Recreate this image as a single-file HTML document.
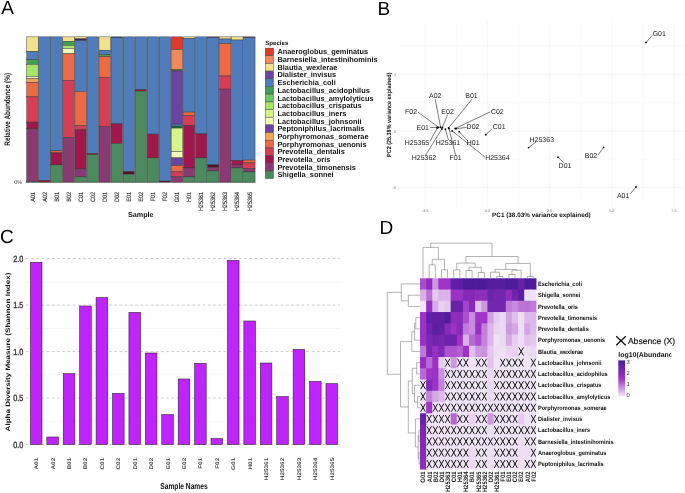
<!DOCTYPE html>
<html><head><meta charset="utf-8"><title>Figure</title>
<style>
html,body{margin:0;padding:0;background:#fff;}
body{width:685px;height:493px;overflow:hidden;font-family:"Liberation Sans", sans-serif;}
svg{display:block;will-change:transform;}
svg text{font-family:"Liberation Sans", sans-serif;text-rendering:geometricPrecision;}
</style></head><body>
<svg width="685" height="493" viewBox="0 0 685 493">
<rect x="0" y="0" width="685" height="493" fill="#ffffff"/>
<g id="panelA">
<text x="1.2" y="14.2" font-size="19" fill="#000">A</text>
<rect x="26.67" y="36.85" width="11.50" height="14.75" fill="#f2e08c" stroke="#2c2c2c" stroke-width="0.42"/>
<rect x="26.67" y="51.60" width="11.50" height="8.00" fill="#4f7cba" stroke="#2c2c2c" stroke-width="0.42"/>
<rect x="26.67" y="59.60" width="11.50" height="4.70" fill="#3f9e58" stroke="#2c2c2c" stroke-width="0.42"/>
<rect x="26.67" y="64.30" width="11.50" height="12.20" fill="#a8e466" stroke="#2c2c2c" stroke-width="0.42"/>
<rect x="26.67" y="76.50" width="11.50" height="2.10" fill="#f4fbb8" stroke="#2c2c2c" stroke-width="0.42"/>
<rect x="26.67" y="78.60" width="11.50" height="3.80" fill="#f2a65a" stroke="#2c2c2c" stroke-width="0.42"/>
<rect x="26.67" y="82.40" width="11.50" height="14.50" fill="#ee6a44" stroke="#2c2c2c" stroke-width="0.42"/>
<rect x="26.67" y="96.90" width="11.50" height="25.20" fill="#d63e56" stroke="#2c2c2c" stroke-width="0.42"/>
<rect x="26.67" y="122.10" width="11.50" height="6.80" fill="#a0174b" stroke="#2c2c2c" stroke-width="0.42"/>
<rect x="26.67" y="128.90" width="11.50" height="52.60" fill="#893a72" stroke="#2c2c2c" stroke-width="0.42"/>
<rect x="26.67" y="181.50" width="11.50" height="0.65" fill="#4b8a5e" stroke="#2c2c2c" stroke-width="0.42"/>
<text transform="translate(34.62,191.9) rotate(-90) scale(0.87,1)" text-anchor="end" font-size="6.3" fill="#303030" stroke="#303030" stroke-width="0.15">A01</text>
<rect x="38.72" y="36.85" width="11.50" height="143.65" fill="#4f7cba" stroke="#2c2c2c" stroke-width="0.42"/>
<rect x="38.72" y="180.50" width="11.50" height="1.65" fill="#a0174b" stroke="#2c2c2c" stroke-width="0.42"/>
<text transform="translate(46.68,191.9) rotate(-90) scale(0.87,1)" text-anchor="end" font-size="6.3" fill="#303030" stroke="#303030" stroke-width="0.15">A02</text>
<rect x="50.77" y="36.85" width="11.50" height="114.05" fill="#4f7cba" stroke="#2c2c2c" stroke-width="0.42"/>
<rect x="50.77" y="150.90" width="11.50" height="2.00" fill="#ee6a44" stroke="#2c2c2c" stroke-width="0.42"/>
<rect x="50.77" y="152.90" width="11.50" height="12.00" fill="#a0174b" stroke="#2c2c2c" stroke-width="0.42"/>
<rect x="50.77" y="164.90" width="11.50" height="17.25" fill="#4b8a5e" stroke="#2c2c2c" stroke-width="0.42"/>
<text transform="translate(58.73,191.9) rotate(-90) scale(0.87,1)" text-anchor="end" font-size="6.3" fill="#303030" stroke="#303030" stroke-width="0.15">B01</text>
<rect x="62.82" y="36.85" width="11.50" height="4.65" fill="#f2e08c" stroke="#2c2c2c" stroke-width="0.42"/>
<rect x="62.82" y="41.50" width="11.50" height="3.90" fill="#3f9e58" stroke="#2c2c2c" stroke-width="0.42"/>
<rect x="62.82" y="45.40" width="11.50" height="3.10" fill="#a8e466" stroke="#2c2c2c" stroke-width="0.42"/>
<rect x="62.82" y="48.50" width="11.50" height="5.20" fill="#f4fbb8" stroke="#2c2c2c" stroke-width="0.42"/>
<rect x="62.82" y="53.70" width="11.50" height="26.70" fill="#ee6a44" stroke="#2c2c2c" stroke-width="0.42"/>
<rect x="62.82" y="80.40" width="11.50" height="57.10" fill="#d63e56" stroke="#2c2c2c" stroke-width="0.42"/>
<rect x="62.82" y="137.50" width="11.50" height="44.65" fill="#893a72" stroke="#2c2c2c" stroke-width="0.42"/>
<text transform="translate(70.78,191.9) rotate(-90) scale(0.87,1)" text-anchor="end" font-size="6.3" fill="#303030" stroke="#303030" stroke-width="0.15">B02</text>
<rect x="74.87" y="36.85" width="11.50" height="2.05" fill="#f2e08c" stroke="#2c2c2c" stroke-width="0.42"/>
<rect x="74.87" y="38.90" width="11.50" height="1.70" fill="#35286e" stroke="#2c2c2c" stroke-width="0.42"/>
<rect x="74.87" y="40.60" width="11.50" height="50.90" fill="#4f7cba" stroke="#2c2c2c" stroke-width="0.42"/>
<rect x="74.87" y="91.50" width="11.50" height="34.00" fill="#ee6a44" stroke="#2c2c2c" stroke-width="0.42"/>
<rect x="74.87" y="125.50" width="11.50" height="4.40" fill="#d63e56" stroke="#2c2c2c" stroke-width="0.42"/>
<rect x="74.87" y="129.90" width="11.50" height="39.00" fill="#a0174b" stroke="#2c2c2c" stroke-width="0.42"/>
<rect x="74.87" y="168.90" width="11.50" height="8.00" fill="#893a72" stroke="#2c2c2c" stroke-width="0.42"/>
<rect x="74.87" y="176.90" width="11.50" height="5.25" fill="#4b8a5e" stroke="#2c2c2c" stroke-width="0.42"/>
<text transform="translate(82.83,191.9) rotate(-90) scale(0.87,1)" text-anchor="end" font-size="6.3" fill="#303030" stroke="#303030" stroke-width="0.15">C01</text>
<rect x="86.92" y="36.85" width="11.50" height="116.65" fill="#4f7cba" stroke="#2c2c2c" stroke-width="0.42"/>
<rect x="86.92" y="153.50" width="11.50" height="1.20" fill="#a0174b" stroke="#2c2c2c" stroke-width="0.42"/>
<rect x="86.92" y="154.70" width="11.50" height="27.45" fill="#4b8a5e" stroke="#2c2c2c" stroke-width="0.42"/>
<text transform="translate(94.88,191.9) rotate(-90) scale(0.87,1)" text-anchor="end" font-size="6.3" fill="#303030" stroke="#303030" stroke-width="0.15">C02</text>
<rect x="98.97" y="36.85" width="11.50" height="13.35" fill="#f2e08c" stroke="#2c2c2c" stroke-width="0.42"/>
<rect x="98.97" y="50.20" width="11.50" height="4.50" fill="#4f7cba" stroke="#2c2c2c" stroke-width="0.42"/>
<rect x="98.97" y="54.70" width="11.50" height="2.00" fill="#5f9a45" stroke="#2c2c2c" stroke-width="0.42"/>
<rect x="98.97" y="56.70" width="11.50" height="20.50" fill="#ee6a44" stroke="#2c2c2c" stroke-width="0.42"/>
<rect x="98.97" y="77.20" width="11.50" height="49.30" fill="#d63e56" stroke="#2c2c2c" stroke-width="0.42"/>
<rect x="98.97" y="126.50" width="11.50" height="55.65" fill="#893a72" stroke="#2c2c2c" stroke-width="0.42"/>
<text transform="translate(106.93,191.9) rotate(-90) scale(0.87,1)" text-anchor="end" font-size="6.3" fill="#303030" stroke="#303030" stroke-width="0.15">D01</text>
<rect x="111.02" y="36.85" width="11.50" height="0.85" fill="#2a3a5a" stroke="#2c2c2c" stroke-width="0.42"/>
<rect x="111.02" y="37.70" width="11.50" height="86.20" fill="#4f7cba" stroke="#2c2c2c" stroke-width="0.42"/>
<rect x="111.02" y="123.90" width="11.50" height="19.60" fill="#a0174b" stroke="#2c2c2c" stroke-width="0.42"/>
<rect x="111.02" y="143.50" width="11.50" height="38.65" fill="#4b8a5e" stroke="#2c2c2c" stroke-width="0.42"/>
<text transform="translate(118.98,191.9) rotate(-90) scale(0.87,1)" text-anchor="end" font-size="6.3" fill="#303030" stroke="#303030" stroke-width="0.15">D02</text>
<rect x="123.07" y="36.85" width="11.50" height="134.65" fill="#4f7cba" stroke="#2c2c2c" stroke-width="0.42"/>
<rect x="123.07" y="171.50" width="11.50" height="2.60" fill="#5a0f2a" stroke="#2c2c2c" stroke-width="0.42"/>
<rect x="123.07" y="174.10" width="11.50" height="8.05" fill="#4b8a5e" stroke="#2c2c2c" stroke-width="0.42"/>
<text transform="translate(131.03,191.9) rotate(-90) scale(0.87,1)" text-anchor="end" font-size="6.3" fill="#303030" stroke="#303030" stroke-width="0.15">E01</text>
<rect x="135.12" y="36.85" width="11.50" height="52.85" fill="#4f7cba" stroke="#2c2c2c" stroke-width="0.42"/>
<rect x="135.12" y="89.70" width="11.50" height="1.40" fill="#a0174b" stroke="#2c2c2c" stroke-width="0.42"/>
<rect x="135.12" y="91.10" width="11.50" height="91.05" fill="#4b8a5e" stroke="#2c2c2c" stroke-width="0.42"/>
<text transform="translate(143.07,191.9) rotate(-90) scale(0.87,1)" text-anchor="end" font-size="6.3" fill="#303030" stroke="#303030" stroke-width="0.15">E02</text>
<rect x="147.17" y="36.85" width="11.50" height="97.25" fill="#4f7cba" stroke="#2c2c2c" stroke-width="0.42"/>
<rect x="147.17" y="134.10" width="11.50" height="23.80" fill="#a0174b" stroke="#2c2c2c" stroke-width="0.42"/>
<rect x="147.17" y="157.90" width="11.50" height="24.25" fill="#4b8a5e" stroke="#2c2c2c" stroke-width="0.42"/>
<text transform="translate(155.12,191.9) rotate(-90) scale(0.87,1)" text-anchor="end" font-size="6.3" fill="#303030" stroke="#303030" stroke-width="0.15">F01</text>
<rect x="159.22" y="36.85" width="11.50" height="144.25" fill="#4f7cba" stroke="#2c2c2c" stroke-width="0.42"/>
<rect x="159.22" y="181.10" width="11.50" height="1.05" fill="#5a0f2a" stroke="#2c2c2c" stroke-width="0.42"/>
<text transform="translate(167.18,191.9) rotate(-90) scale(0.87,1)" text-anchor="end" font-size="6.3" fill="#303030" stroke="#303030" stroke-width="0.15">F02</text>
<rect x="171.27" y="36.85" width="11.50" height="12.65" fill="#e03a2b" stroke="#2c2c2c" stroke-width="0.42"/>
<rect x="171.27" y="49.50" width="11.50" height="20.00" fill="#f08a5c" stroke="#2c2c2c" stroke-width="0.42"/>
<rect x="171.27" y="69.50" width="11.50" height="1.40" fill="#7a7a30" stroke="#2c2c2c" stroke-width="0.42"/>
<rect x="171.27" y="70.90" width="11.50" height="53.20" fill="#6a45a0" stroke="#2c2c2c" stroke-width="0.42"/>
<rect x="171.27" y="124.10" width="11.50" height="2.00" fill="#4f7cba" stroke="#2c2c2c" stroke-width="0.42"/>
<rect x="171.27" y="126.10" width="11.50" height="2.00" fill="#1f6a3a" stroke="#2c2c2c" stroke-width="0.42"/>
<rect x="171.27" y="128.10" width="11.50" height="23.40" fill="#d6f588" stroke="#2c2c2c" stroke-width="0.42"/>
<rect x="171.27" y="151.50" width="11.50" height="6.40" fill="#f4fbb8" stroke="#2c2c2c" stroke-width="0.42"/>
<rect x="171.27" y="157.90" width="11.50" height="7.60" fill="#6a45a0" stroke="#2c2c2c" stroke-width="0.42"/>
<rect x="171.27" y="165.50" width="11.50" height="6.40" fill="#ee6a44" stroke="#2c2c2c" stroke-width="0.42"/>
<rect x="171.27" y="171.90" width="11.50" height="4.60" fill="#d63e56" stroke="#2c2c2c" stroke-width="0.42"/>
<rect x="171.27" y="176.50" width="11.50" height="5.65" fill="#893a72" stroke="#2c2c2c" stroke-width="0.42"/>
<text transform="translate(179.23,191.9) rotate(-90) scale(0.87,1)" text-anchor="end" font-size="6.3" fill="#303030" stroke="#303030" stroke-width="0.15">G01</text>
<rect x="183.32" y="36.85" width="11.50" height="1.55" fill="#f2e08c" stroke="#2c2c2c" stroke-width="0.42"/>
<rect x="183.32" y="38.40" width="11.50" height="73.70" fill="#4f7cba" stroke="#2c2c2c" stroke-width="0.42"/>
<rect x="183.32" y="112.10" width="11.50" height="3.40" fill="#ee6a44" stroke="#2c2c2c" stroke-width="0.42"/>
<rect x="183.32" y="115.50" width="11.50" height="10.00" fill="#d63e56" stroke="#2c2c2c" stroke-width="0.42"/>
<rect x="183.32" y="125.50" width="11.50" height="42.40" fill="#a0174b" stroke="#2c2c2c" stroke-width="0.42"/>
<rect x="183.32" y="167.90" width="11.50" height="9.00" fill="#893a72" stroke="#2c2c2c" stroke-width="0.42"/>
<rect x="183.32" y="176.90" width="11.50" height="5.25" fill="#4b8a5e" stroke="#2c2c2c" stroke-width="0.42"/>
<text transform="translate(191.28,191.9) rotate(-90) scale(0.87,1)" text-anchor="end" font-size="6.3" fill="#303030" stroke="#303030" stroke-width="0.15">H01</text>
<rect x="195.37" y="36.85" width="11.50" height="97.05" fill="#4f7cba" stroke="#2c2c2c" stroke-width="0.42"/>
<rect x="195.37" y="133.90" width="11.50" height="24.00" fill="#a0174b" stroke="#2c2c2c" stroke-width="0.42"/>
<rect x="195.37" y="157.90" width="11.50" height="24.25" fill="#4b8a5e" stroke="#2c2c2c" stroke-width="0.42"/>
<text transform="translate(203.33,191.9) rotate(-90) scale(0.87,1)" text-anchor="end" font-size="6.3" fill="#303030" stroke="#303030" stroke-width="0.15">H25361</text>
<rect x="207.42" y="36.85" width="11.50" height="0.75" fill="#2a3a5a" stroke="#2c2c2c" stroke-width="0.42"/>
<rect x="207.42" y="37.60" width="11.50" height="127.30" fill="#4f7cba" stroke="#2c2c2c" stroke-width="0.42"/>
<rect x="207.42" y="164.90" width="11.50" height="2.60" fill="#5a0f2a" stroke="#2c2c2c" stroke-width="0.42"/>
<rect x="207.42" y="167.50" width="11.50" height="3.40" fill="#893a72" stroke="#2c2c2c" stroke-width="0.42"/>
<rect x="207.42" y="170.90" width="11.50" height="11.25" fill="#4b8a5e" stroke="#2c2c2c" stroke-width="0.42"/>
<text transform="translate(215.38,191.9) rotate(-90) scale(0.87,1)" text-anchor="end" font-size="6.3" fill="#303030" stroke="#303030" stroke-width="0.15">H25362</text>
<rect x="219.47" y="36.85" width="11.50" height="2.15" fill="#f2e08c" stroke="#2c2c2c" stroke-width="0.42"/>
<rect x="219.47" y="39.00" width="11.50" height="4.60" fill="#4f7cba" stroke="#2c2c2c" stroke-width="0.42"/>
<rect x="219.47" y="43.60" width="11.50" height="32.40" fill="#ee6a44" stroke="#2c2c2c" stroke-width="0.42"/>
<rect x="219.47" y="76.00" width="11.50" height="13.10" fill="#d63e56" stroke="#2c2c2c" stroke-width="0.42"/>
<rect x="219.47" y="89.10" width="11.50" height="93.05" fill="#893a72" stroke="#2c2c2c" stroke-width="0.42"/>
<text transform="translate(227.43,191.9) rotate(-90) scale(0.87,1)" text-anchor="end" font-size="6.3" fill="#303030" stroke="#303030" stroke-width="0.15">H25363</text>
<rect x="231.52" y="36.85" width="11.50" height="3.15" fill="#f2e08c" stroke="#2c2c2c" stroke-width="0.42"/>
<rect x="231.52" y="40.00" width="11.50" height="120.50" fill="#4f7cba" stroke="#2c2c2c" stroke-width="0.42"/>
<rect x="231.52" y="160.50" width="11.50" height="4.40" fill="#a0174b" stroke="#2c2c2c" stroke-width="0.42"/>
<rect x="231.52" y="164.90" width="11.50" height="3.00" fill="#893a72" stroke="#2c2c2c" stroke-width="0.42"/>
<rect x="231.52" y="167.90" width="11.50" height="14.25" fill="#4b8a5e" stroke="#2c2c2c" stroke-width="0.42"/>
<text transform="translate(239.48,191.9) rotate(-90) scale(0.87,1)" text-anchor="end" font-size="6.3" fill="#303030" stroke="#303030" stroke-width="0.15">H25364</text>
<rect x="243.57" y="36.85" width="11.50" height="0.75" fill="#2a3a5a" stroke="#2c2c2c" stroke-width="0.42"/>
<rect x="243.57" y="37.60" width="11.50" height="122.50" fill="#4f7cba" stroke="#2c2c2c" stroke-width="0.42"/>
<rect x="243.57" y="160.10" width="11.50" height="2.80" fill="#ee6a44" stroke="#2c2c2c" stroke-width="0.42"/>
<rect x="243.57" y="162.90" width="11.50" height="5.60" fill="#d63e56" stroke="#2c2c2c" stroke-width="0.42"/>
<rect x="243.57" y="168.50" width="11.50" height="3.40" fill="#893a72" stroke="#2c2c2c" stroke-width="0.42"/>
<rect x="243.57" y="171.90" width="11.50" height="10.25" fill="#4b8a5e" stroke="#2c2c2c" stroke-width="0.42"/>
<text transform="translate(251.53,191.9) rotate(-90) scale(0.87,1)" text-anchor="end" font-size="6.3" fill="#303030" stroke="#303030" stroke-width="0.15">H25365</text>
<line x1="25.6" x2="255.6" y1="182.4" y2="182.4" stroke="#555" stroke-width="0.5"/>
<text x="22.2" y="183.9" text-anchor="end" font-size="5.5" fill="#444">0%</text>
<text transform="translate(10.3,109.3) rotate(-90) scale(0.80,1)" text-anchor="middle" font-size="8.0" font-weight="bold" fill="#111">Relative Abundance (%)</text>
<text x="140.8" y="217.0" text-anchor="middle" font-size="7.2" font-weight="bold" fill="#111">Sample</text>
<text x="265.2" y="45" font-size="6.15" font-weight="bold" fill="#111">Species</text>
<rect x="265.3" y="48.10" width="8.3" height="7.49" fill="#e03a2b" stroke="#333" stroke-width="0.4"/>
<text x="277.4" y="54.39" font-size="7.4" font-weight="bold" fill="#161616">Anaeroglobus_geminatus</text>
<rect x="265.3" y="55.79" width="8.3" height="7.49" fill="#f08a5c" stroke="#333" stroke-width="0.4"/>
<text x="277.4" y="62.08" font-size="7.4" font-weight="bold" fill="#161616">Barnesiella_intestinihominis</text>
<rect x="265.3" y="63.48" width="8.3" height="7.49" fill="#f2e08c" stroke="#333" stroke-width="0.4"/>
<text x="277.4" y="69.78" font-size="7.4" font-weight="bold" fill="#161616">Blautia_wexlerae</text>
<rect x="265.3" y="71.17" width="8.3" height="7.49" fill="#6a45a0" stroke="#333" stroke-width="0.4"/>
<text x="277.4" y="77.46" font-size="7.4" font-weight="bold" fill="#161616">Dialister_invisus</text>
<rect x="265.3" y="78.86" width="8.3" height="7.49" fill="#4f7cba" stroke="#333" stroke-width="0.4"/>
<text x="277.4" y="85.16" font-size="7.4" font-weight="bold" fill="#161616">Escherichia_coli</text>
<rect x="265.3" y="86.55" width="8.3" height="7.49" fill="#3f9e58" stroke="#333" stroke-width="0.4"/>
<text x="277.4" y="92.84" font-size="7.4" font-weight="bold" fill="#161616">Lactobacillus_acidophilus</text>
<rect x="265.3" y="94.24" width="8.3" height="7.49" fill="#6cc863" stroke="#333" stroke-width="0.4"/>
<text x="277.4" y="100.53" font-size="7.4" font-weight="bold" fill="#161616">Lactobacillus_amylolyticus</text>
<rect x="265.3" y="101.93" width="8.3" height="7.49" fill="#a8e466" stroke="#333" stroke-width="0.4"/>
<text x="277.4" y="108.23" font-size="7.4" font-weight="bold" fill="#161616">Lactobacillus_crispatus</text>
<rect x="265.3" y="109.62" width="8.3" height="7.49" fill="#d6f588" stroke="#333" stroke-width="0.4"/>
<text x="277.4" y="115.92" font-size="7.4" font-weight="bold" fill="#161616">Lactobacillus_iners</text>
<rect x="265.3" y="117.31" width="8.3" height="7.49" fill="#f4fbb8" stroke="#333" stroke-width="0.4"/>
<text x="277.4" y="123.61" font-size="7.4" font-weight="bold" fill="#161616">Lactobacillus_johnsonii</text>
<rect x="265.3" y="125.00" width="8.3" height="7.49" fill="#6a45a0" stroke="#333" stroke-width="0.4"/>
<text x="277.4" y="131.30" font-size="7.4" font-weight="bold" fill="#161616">Peptoniphilus_lacrimalis</text>
<rect x="265.3" y="132.69" width="8.3" height="7.49" fill="#f2a65a" stroke="#333" stroke-width="0.4"/>
<text x="277.4" y="138.99" font-size="7.4" font-weight="bold" fill="#161616">Porphyromonas_somerae</text>
<rect x="265.3" y="140.38" width="8.3" height="7.49" fill="#ee6a44" stroke="#333" stroke-width="0.4"/>
<text x="277.4" y="146.68" font-size="7.4" font-weight="bold" fill="#161616">Porphyromonas_uenonis</text>
<rect x="265.3" y="148.07" width="8.3" height="7.49" fill="#d63e56" stroke="#333" stroke-width="0.4"/>
<text x="277.4" y="154.37" font-size="7.4" font-weight="bold" fill="#161616">Prevotella_dentalis</text>
<rect x="265.3" y="155.76" width="8.3" height="7.49" fill="#a0174b" stroke="#333" stroke-width="0.4"/>
<text x="277.4" y="162.06" font-size="7.4" font-weight="bold" fill="#161616">Prevotella_oris</text>
<rect x="265.3" y="163.45" width="8.3" height="7.49" fill="#893a72" stroke="#333" stroke-width="0.4"/>
<text x="277.4" y="169.75" font-size="7.4" font-weight="bold" fill="#161616">Prevotella_timonensis</text>
<rect x="265.3" y="171.14" width="8.3" height="7.49" fill="#4b8a5e" stroke="#333" stroke-width="0.4"/>
<text x="277.4" y="177.44" font-size="7.4" font-weight="bold" fill="#161616">Shigella_sonnei</text>
</g>
<g id="panelB">
<text x="377.6" y="14.8" font-size="19" fill="#000">B</text>
<line x1="425.20" x2="425.20" y1="22.5" y2="207" stroke="#ececec" stroke-width="0.55"/>
<line x1="456.30" x2="456.30" y1="22.5" y2="207" stroke="#f3f3f3" stroke-width="0.45"/>
<line x1="487.40" x2="487.40" y1="22.5" y2="207" stroke="#ececec" stroke-width="0.55"/>
<line x1="518.50" x2="518.50" y1="22.5" y2="207" stroke="#f3f3f3" stroke-width="0.45"/>
<line x1="549.60" x2="549.60" y1="22.5" y2="207" stroke="#ececec" stroke-width="0.55"/>
<line x1="580.70" x2="580.70" y1="22.5" y2="207" stroke="#f3f3f3" stroke-width="0.45"/>
<line x1="611.80" x2="611.80" y1="22.5" y2="207" stroke="#ececec" stroke-width="0.55"/>
<line x1="642.90" x2="642.90" y1="22.5" y2="207" stroke="#f3f3f3" stroke-width="0.45"/>
<line x1="674.00" x2="674.00" y1="22.5" y2="207" stroke="#ececec" stroke-width="0.55"/>
<line x1="398" x2="685" y1="46.00" y2="46.00" stroke="#f3f3f3" stroke-width="0.45"/>
<line x1="398" x2="685" y1="74.30" y2="74.30" stroke="#ececec" stroke-width="0.55"/>
<line x1="398" x2="685" y1="102.60" y2="102.60" stroke="#f3f3f3" stroke-width="0.45"/>
<line x1="398" x2="685" y1="130.90" y2="130.90" stroke="#ececec" stroke-width="0.55"/>
<line x1="398" x2="685" y1="159.20" y2="159.20" stroke="#f3f3f3" stroke-width="0.45"/>
<line x1="398" x2="685" y1="187.50" y2="187.50" stroke="#ececec" stroke-width="0.55"/>
<text x="425.20"  y="211.7" text-anchor="middle" font-size="3.8" fill="#777">-2.5</text>
<text x="487.40"  y="211.7" text-anchor="middle" font-size="3.8" fill="#777">0.0</text>
<text x="549.60"  y="211.7" text-anchor="middle" font-size="3.8" fill="#777">2.5</text>
<text x="611.80"  y="211.7" text-anchor="middle" font-size="3.8" fill="#777">5.0</text>
<text x="674.00"  y="211.7" text-anchor="middle" font-size="3.8" fill="#777">7.5</text>
<text x="396"  y="76.00" text-anchor="end" font-size="3.8" fill="#777">5</text>
<text x="396"  y="132.60" text-anchor="end" font-size="3.8" fill="#777">0</text>
<text x="396"  y="189.20" text-anchor="end" font-size="3.8" fill="#777">-5</text>
<text transform="translate(391.1,114.7) rotate(-90) scale(0.893,1)" text-anchor="middle" font-size="6.1" font-weight="bold" fill="#111">PC2 (25.38% variance explained)</text>
<text x="541.4" y="217.0" text-anchor="middle" font-size="6.36" font-weight="bold" fill="#111">PC1 (38.03% variance explained)</text>
<line x1="437.3" y1="127.3" x2="430.2" y2="127.6" stroke="#111" stroke-width="0.55"/>
<line x1="438.6" y1="127.3" x2="417.8" y2="112.0" stroke="#111" stroke-width="0.55"/>
<line x1="440.6" y1="127.3" x2="435.2" y2="99.2" stroke="#111" stroke-width="0.55"/>
<line x1="442.4" y1="127.4" x2="447.6" y2="114.6" stroke="#111" stroke-width="0.55"/>
<line x1="437.3" y1="128.0" x2="430.0" y2="141.4" stroke="#111" stroke-width="0.55"/>
<line x1="441.9" y1="128.9" x2="425.2" y2="155.8" stroke="#111" stroke-width="0.55"/>
<line x1="445.4" y1="129.2" x2="448.4" y2="140.0" stroke="#111" stroke-width="0.55"/>
<line x1="448.6" y1="127.9" x2="472.0" y2="99.2" stroke="#111" stroke-width="0.55"/>
<line x1="449.0" y1="128.6" x2="455.6" y2="155.4" stroke="#111" stroke-width="0.55"/>
<line x1="452.1" y1="130.9" x2="485.0" y2="157.0" stroke="#111" stroke-width="0.55"/>
<line x1="455.1" y1="128.5" x2="490.4" y2="111.8" stroke="#111" stroke-width="0.55"/>
<line x1="456.2" y1="128.7" x2="466.4" y2="127.4" stroke="#111" stroke-width="0.55"/>
<line x1="459.2" y1="131.7" x2="468.0" y2="141.0" stroke="#111" stroke-width="0.55"/>
<line x1="485.8" y1="134.7" x2="492.2" y2="128.6" stroke="#111" stroke-width="0.55"/>
<line x1="528.6" y1="147.6" x2="536.0" y2="142.0" stroke="#111" stroke-width="0.55"/>
<line x1="558.0" y1="157.2" x2="563.8" y2="162.8" stroke="#111" stroke-width="0.55"/>
<line x1="603.6" y1="147.4" x2="598.0" y2="155.0" stroke="#111" stroke-width="0.55"/>
<line x1="636.0" y1="187.0" x2="630.0" y2="194.0" stroke="#111" stroke-width="0.55"/>
<line x1="646.0" y1="42.4" x2="652.2" y2="35.6" stroke="#111" stroke-width="0.55"/>
<circle cx="437.3" cy="127.3" r="0.9" fill="#000"/>
<circle cx="438.6" cy="127.3" r="0.9" fill="#000"/>
<circle cx="440.6" cy="127.3" r="0.9" fill="#000"/>
<circle cx="442.4" cy="127.4" r="0.9" fill="#000"/>
<circle cx="437.3" cy="128.0" r="0.9" fill="#000"/>
<circle cx="441.9" cy="128.9" r="0.9" fill="#000"/>
<circle cx="445.4" cy="129.2" r="0.9" fill="#000"/>
<circle cx="448.6" cy="127.9" r="0.9" fill="#000"/>
<circle cx="449.0" cy="128.6" r="0.9" fill="#000"/>
<circle cx="452.1" cy="130.9" r="0.9" fill="#000"/>
<circle cx="455.1" cy="128.5" r="0.9" fill="#000"/>
<circle cx="456.2" cy="128.7" r="0.9" fill="#000"/>
<circle cx="459.2" cy="131.7" r="0.9" fill="#000"/>
<circle cx="485.8" cy="134.7" r="0.9" fill="#000"/>
<circle cx="528.6" cy="147.6" r="0.9" fill="#000"/>
<circle cx="558.0" cy="157.2" r="0.9" fill="#000"/>
<circle cx="603.6" cy="147.4" r="0.9" fill="#000"/>
<circle cx="636.0" cy="187.0" r="0.9" fill="#000"/>
<circle cx="646.0" cy="42.4" r="0.9" fill="#000"/>
<text x="422.8" y="129.60" text-anchor="middle" font-size="7" fill="#1a1a1a">E01</text>
<text x="411.0" y="113.60" text-anchor="middle" font-size="7" fill="#1a1a1a">F02</text>
<text x="435.3" y="98.00" text-anchor="middle" font-size="7" fill="#1a1a1a">A02</text>
<text x="447.6" y="113.60" text-anchor="middle" font-size="7" fill="#1a1a1a">E02</text>
<text x="417.0" y="145.00" text-anchor="middle" font-size="7" fill="#1a1a1a">H25365</text>
<text x="424.0" y="160.40" text-anchor="middle" font-size="7" fill="#1a1a1a">H25362</text>
<text x="448.0" y="145.00" text-anchor="middle" font-size="7" fill="#1a1a1a">H25361</text>
<text x="471.5" y="98.00" text-anchor="middle" font-size="7" fill="#1a1a1a">B01</text>
<text x="455.5" y="160.40" text-anchor="middle" font-size="7" fill="#1a1a1a">F01</text>
<text x="497.4" y="160.40" text-anchor="middle" font-size="7" fill="#1a1a1a">H25364</text>
<text x="497.3" y="113.60" text-anchor="middle" font-size="7" fill="#1a1a1a">C02</text>
<text x="473.0" y="129.20" text-anchor="middle" font-size="7" fill="#1a1a1a">D02</text>
<text x="473.2" y="145.00" text-anchor="middle" font-size="7" fill="#1a1a1a">H01</text>
<text x="499.2" y="129.20" text-anchor="middle" font-size="7" fill="#1a1a1a">C01</text>
<text x="541.8" y="141.60" text-anchor="middle" font-size="7" fill="#1a1a1a">H25363</text>
<text x="565.0" y="168.30" text-anchor="middle" font-size="7" fill="#1a1a1a">D01</text>
<text x="591.0" y="158.00" text-anchor="middle" font-size="7" fill="#1a1a1a">B02</text>
<text x="623.2" y="197.60" text-anchor="middle" font-size="7" fill="#1a1a1a">A01</text>
<text x="659.3" y="36.40" text-anchor="middle" font-size="7" fill="#1a1a1a">G01</text>
</g>
<g id="panelC">
<text x="0.0" y="243.4" font-size="19" fill="#000">C</text>
<text transform="translate(23.4,261.95) scale(0.82,1)" text-anchor="end" font-size="8.9" fill="#3c3c3c" stroke="#3c3c3c" stroke-width="0.4">2.0</text>
<text transform="translate(23.4,308.45) scale(0.82,1)" text-anchor="end" font-size="8.9" fill="#3c3c3c" stroke="#3c3c3c" stroke-width="0.4">1.5</text>
<text transform="translate(23.4,354.95) scale(0.82,1)" text-anchor="end" font-size="8.9" fill="#3c3c3c" stroke="#3c3c3c" stroke-width="0.4">1.0</text>
<text transform="translate(23.4,401.35) scale(0.82,1)" text-anchor="end" font-size="8.9" fill="#3c3c3c" stroke="#3c3c3c" stroke-width="0.4">0.5</text>
<text transform="translate(23.4,447.85) scale(0.82,1)" text-anchor="end" font-size="8.9" fill="#3c3c3c" stroke="#3c3c3c" stroke-width="0.4">0.0</text>
<line x1="26" x2="340" y1="281.9" y2="281.9" stroke="#ececec" stroke-width="0.5"/>
<line x1="26" x2="340" y1="328.4" y2="328.4" stroke="#ececec" stroke-width="0.5"/>
<line x1="26" x2="340" y1="374.8" y2="374.8" stroke="#ececec" stroke-width="0.5"/>
<line x1="26" x2="340" y1="421.3" y2="421.3" stroke="#ececec" stroke-width="0.5"/>
<line x1="26" x2="340" y1="258.6" y2="258.6" stroke="#b6b6b6" stroke-width="0.75" stroke-dasharray="2.5,2.7"/>
<line x1="26" x2="340" y1="305.1" y2="305.1" stroke="#b6b6b6" stroke-width="0.75" stroke-dasharray="2.5,2.7"/>
<line x1="26" x2="340" y1="351.6" y2="351.6" stroke="#b6b6b6" stroke-width="0.75" stroke-dasharray="2.5,2.7"/>
<line x1="26" x2="340" y1="398.0" y2="398.0" stroke="#b6b6b6" stroke-width="0.75" stroke-dasharray="2.5,2.7"/>
<line x1="26" x2="340" y1="444.5" y2="444.5" stroke="#b6b6b6" stroke-width="0.75" stroke-dasharray="2.5,2.7"/>
<rect x="30.40" y="262.40" width="11.6" height="182.10" fill="#bf24fc" stroke="#2a1a33" stroke-width="0.55"/>
<text transform="translate(38.15,457.8) scale(0.83,1) rotate(-90)" text-anchor="end" font-size="6.4" font-weight="bold" fill="#4a4a4a">A01</text>
<rect x="46.82" y="437.00" width="11.6" height="7.50" fill="#bf24fc" stroke="#2a1a33" stroke-width="0.55"/>
<text transform="translate(54.57,457.8) scale(0.83,1) rotate(-90)" text-anchor="end" font-size="6.4" font-weight="bold" fill="#4a4a4a">A02</text>
<rect x="63.24" y="373.60" width="11.6" height="70.90" fill="#bf24fc" stroke="#2a1a33" stroke-width="0.55"/>
<text transform="translate(70.99,457.8) scale(0.83,1) rotate(-90)" text-anchor="end" font-size="6.4" font-weight="bold" fill="#4a4a4a">B01</text>
<rect x="79.66" y="306.00" width="11.6" height="138.50" fill="#bf24fc" stroke="#2a1a33" stroke-width="0.55"/>
<text transform="translate(87.41,457.8) scale(0.83,1) rotate(-90)" text-anchor="end" font-size="6.4" font-weight="bold" fill="#4a4a4a">B02</text>
<rect x="96.08" y="297.60" width="11.6" height="146.90" fill="#bf24fc" stroke="#2a1a33" stroke-width="0.55"/>
<text transform="translate(103.83,457.8) scale(0.83,1) rotate(-90)" text-anchor="end" font-size="6.4" font-weight="bold" fill="#4a4a4a">C01</text>
<rect x="112.50" y="393.40" width="11.6" height="51.10" fill="#bf24fc" stroke="#2a1a33" stroke-width="0.55"/>
<text transform="translate(120.25,457.8) scale(0.83,1) rotate(-90)" text-anchor="end" font-size="6.4" font-weight="bold" fill="#4a4a4a">C02</text>
<rect x="128.92" y="312.40" width="11.6" height="132.10" fill="#bf24fc" stroke="#2a1a33" stroke-width="0.55"/>
<text transform="translate(136.67,457.8) scale(0.83,1) rotate(-90)" text-anchor="end" font-size="6.4" font-weight="bold" fill="#4a4a4a">D01</text>
<rect x="145.34" y="353.00" width="11.6" height="91.50" fill="#bf24fc" stroke="#2a1a33" stroke-width="0.55"/>
<text transform="translate(153.09,457.8) scale(0.83,1) rotate(-90)" text-anchor="end" font-size="6.4" font-weight="bold" fill="#4a4a4a">D02</text>
<rect x="161.76" y="414.60" width="11.6" height="29.90" fill="#bf24fc" stroke="#2a1a33" stroke-width="0.55"/>
<text transform="translate(169.51,457.8) scale(0.83,1) rotate(-90)" text-anchor="end" font-size="6.4" font-weight="bold" fill="#4a4a4a">E01</text>
<rect x="178.18" y="379.00" width="11.6" height="65.50" fill="#bf24fc" stroke="#2a1a33" stroke-width="0.55"/>
<text transform="translate(185.93,457.8) scale(0.83,1) rotate(-90)" text-anchor="end" font-size="6.4" font-weight="bold" fill="#4a4a4a">E02</text>
<rect x="194.60" y="363.40" width="11.6" height="81.10" fill="#bf24fc" stroke="#2a1a33" stroke-width="0.55"/>
<text transform="translate(202.35,457.8) scale(0.83,1) rotate(-90)" text-anchor="end" font-size="6.4" font-weight="bold" fill="#4a4a4a">F01</text>
<rect x="211.02" y="438.60" width="11.6" height="5.90" fill="#bf24fc" stroke="#2a1a33" stroke-width="0.55"/>
<text transform="translate(218.77,457.8) scale(0.83,1) rotate(-90)" text-anchor="end" font-size="6.4" font-weight="bold" fill="#4a4a4a">F02</text>
<rect x="227.44" y="260.40" width="11.6" height="184.10" fill="#bf24fc" stroke="#2a1a33" stroke-width="0.55"/>
<text transform="translate(235.19,457.8) scale(0.83,1) rotate(-90)" text-anchor="end" font-size="6.4" font-weight="bold" fill="#4a4a4a">G01</text>
<rect x="243.86" y="321.00" width="11.6" height="123.50" fill="#bf24fc" stroke="#2a1a33" stroke-width="0.55"/>
<text transform="translate(251.61,457.8) scale(0.83,1) rotate(-90)" text-anchor="end" font-size="6.4" font-weight="bold" fill="#4a4a4a">H01</text>
<rect x="260.28" y="363.00" width="11.6" height="81.50" fill="#bf24fc" stroke="#2a1a33" stroke-width="0.55"/>
<text transform="translate(268.03,457.8) scale(0.83,1) rotate(-90)" text-anchor="end" font-size="6.4" font-weight="bold" fill="#4a4a4a">H25361</text>
<rect x="276.70" y="396.60" width="11.6" height="47.90" fill="#bf24fc" stroke="#2a1a33" stroke-width="0.55"/>
<text transform="translate(284.45,457.8) scale(0.83,1) rotate(-90)" text-anchor="end" font-size="6.4" font-weight="bold" fill="#4a4a4a">H25362</text>
<rect x="293.12" y="349.40" width="11.6" height="95.10" fill="#bf24fc" stroke="#2a1a33" stroke-width="0.55"/>
<text transform="translate(300.87,457.8) scale(0.83,1) rotate(-90)" text-anchor="end" font-size="6.4" font-weight="bold" fill="#4a4a4a">H25363</text>
<rect x="309.54" y="381.40" width="11.6" height="63.10" fill="#bf24fc" stroke="#2a1a33" stroke-width="0.55"/>
<text transform="translate(317.29,457.8) scale(0.83,1) rotate(-90)" text-anchor="end" font-size="6.4" font-weight="bold" fill="#4a4a4a">H25364</text>
<rect x="325.96" y="383.60" width="11.6" height="60.90" fill="#bf24fc" stroke="#2a1a33" stroke-width="0.55"/>
<text transform="translate(333.71,457.8) scale(0.83,1) rotate(-90)" text-anchor="end" font-size="6.4" font-weight="bold" fill="#4a4a4a">H25365</text>
<text transform="translate(10.2,352) scale(0.8,1) rotate(-90)" text-anchor="middle" font-size="8.05" font-weight="bold" fill="#111">Alpha Diversity Measure (Shannon Index)</text>
<text transform="translate(184.0,488.9) scale(0.775,1)" text-anchor="middle" font-size="8.6" font-weight="bold" fill="#111">Sample Names</text>
</g>
<g id="panelD">
<text x="379.6" y="234.0" font-size="19" fill="#000">D</text>
<rect x="420.00" y="278.30" width="6.83" height="11.95" fill="#aa4ccd"/>
<rect x="426.13" y="278.30" width="6.83" height="11.95" fill="#8e2dbd"/>
<rect x="432.26" y="278.30" width="6.83" height="11.95" fill="#cc95e0"/>
<rect x="438.39" y="278.30" width="6.83" height="11.95" fill="#9e32c6"/>
<rect x="444.52" y="278.30" width="6.83" height="11.95" fill="#9e32c6"/>
<rect x="450.65" y="278.30" width="6.83" height="11.95" fill="#6020a5"/>
<rect x="456.78" y="278.30" width="6.83" height="11.95" fill="#5c1fa3"/>
<rect x="462.91" y="278.30" width="6.83" height="11.95" fill="#4c1a9a"/>
<rect x="469.04" y="278.30" width="6.83" height="11.95" fill="#4c1a9a"/>
<rect x="475.17" y="278.30" width="6.83" height="11.95" fill="#4c1a9a"/>
<rect x="481.30" y="278.30" width="6.83" height="11.95" fill="#4c1a9a"/>
<rect x="487.43" y="278.30" width="6.83" height="11.95" fill="#561da0"/>
<rect x="493.56" y="278.30" width="6.83" height="11.95" fill="#561da0"/>
<rect x="499.69" y="278.30" width="6.83" height="11.95" fill="#561da0"/>
<rect x="505.82" y="278.30" width="6.83" height="11.95" fill="#4c1a9a"/>
<rect x="511.95" y="278.30" width="6.83" height="11.95" fill="#501b9c"/>
<rect x="518.08" y="278.30" width="6.83" height="11.95" fill="#6521a7"/>
<rect x="524.21" y="278.30" width="6.83" height="11.95" fill="#4c1a9a"/>
<rect x="530.34" y="278.30" width="6.13" height="11.95" fill="#4c1a9a"/>
<rect x="420.00" y="289.55" width="6.83" height="11.95" fill="#dab2e8"/>
<rect x="426.13" y="289.55" width="6.83" height="11.95" fill="#bb70d7"/>
<rect x="432.26" y="289.55" width="6.83" height="11.95" fill="#e4c8ee"/>
<rect x="438.39" y="289.55" width="6.83" height="11.95" fill="#dab4e9"/>
<rect x="444.52" y="289.55" width="6.83" height="11.95" fill="#dab4e9"/>
<rect x="450.65" y="289.55" width="6.83" height="11.95" fill="#9a31c4"/>
<rect x="456.78" y="289.55" width="6.83" height="11.95" fill="#9a31c4"/>
<rect x="462.91" y="289.55" width="6.83" height="11.95" fill="#832ab8"/>
<rect x="469.04" y="289.55" width="6.83" height="11.95" fill="#832ab8"/>
<rect x="475.17" y="289.55" width="6.83" height="11.95" fill="#8c2dbc"/>
<rect x="481.30" y="289.55" width="6.83" height="11.95" fill="#8c2dbc"/>
<rect x="487.43" y="289.55" width="6.83" height="11.95" fill="#6b23aa"/>
<rect x="493.56" y="289.55" width="6.83" height="11.95" fill="#7526b0"/>
<rect x="499.69" y="289.55" width="6.83" height="11.95" fill="#7526b0"/>
<rect x="505.82" y="289.55" width="6.83" height="11.95" fill="#8e2dbd"/>
<rect x="511.95" y="289.55" width="6.83" height="11.95" fill="#7125ae"/>
<rect x="518.08" y="289.55" width="6.83" height="11.95" fill="#581ea1"/>
<rect x="524.21" y="289.55" width="6.83" height="11.95" fill="#eedef4"/>
<rect x="530.34" y="289.55" width="6.13" height="11.95" fill="#f0e2f5"/>
<rect x="420.00" y="300.80" width="6.83" height="11.95" fill="#f0e4f6"/>
<rect x="426.13" y="300.80" width="6.83" height="11.95" fill="#9630c2"/>
<rect x="432.26" y="300.80" width="6.83" height="11.95" fill="#d6abe6"/>
<rect x="438.39" y="300.80" width="6.83" height="11.95" fill="#e9d3f1"/>
<rect x="444.52" y="300.80" width="6.83" height="11.95" fill="#e4c8ee"/>
<rect x="450.65" y="300.80" width="6.83" height="11.95" fill="#6722a8"/>
<rect x="456.78" y="300.80" width="6.83" height="11.95" fill="#6722a8"/>
<rect x="462.91" y="300.80" width="6.83" height="11.95" fill="#a541ca"/>
<rect x="469.04" y="300.80" width="6.83" height="11.95" fill="#832ab8"/>
<rect x="475.17" y="300.80" width="6.83" height="11.95" fill="#e0c1ec"/>
<rect x="481.30" y="300.80" width="6.83" height="11.95" fill="#cc95e0"/>
<rect x="487.43" y="300.80" width="6.83" height="11.95" fill="#7526b0"/>
<rect x="493.56" y="300.80" width="6.83" height="11.95" fill="#7526b0"/>
<rect x="499.69" y="300.80" width="6.83" height="11.95" fill="#7526b0"/>
<rect x="505.82" y="300.80" width="6.83" height="11.95" fill="#c07bda"/>
<rect x="511.95" y="300.80" width="6.83" height="11.95" fill="#c78ade"/>
<rect x="518.08" y="300.80" width="6.83" height="11.95" fill="#bd74d8"/>
<rect x="524.21" y="300.80" width="6.83" height="11.95" fill="#bb70d7"/>
<rect x="530.34" y="300.80" width="6.13" height="11.95" fill="#c07bda"/>
<rect x="420.00" y="312.05" width="6.83" height="11.95" fill="#9e32c6"/>
<rect x="426.13" y="312.05" width="6.83" height="11.95" fill="#6020a5"/>
<rect x="432.26" y="312.05" width="6.83" height="11.95" fill="#6020a5"/>
<rect x="438.39" y="312.05" width="6.83" height="11.95" fill="#6020a5"/>
<rect x="444.52" y="312.05" width="6.83" height="11.95" fill="#521c9d"/>
<rect x="450.65" y="312.05" width="6.83" height="11.95" fill="#8c2dbc"/>
<rect x="456.78" y="312.05" width="6.83" height="11.95" fill="#8a2cbb"/>
<rect x="462.91" y="312.05" width="6.83" height="11.95" fill="#ac4fce"/>
<rect x="469.04" y="312.05" width="6.83" height="11.95" fill="#c78ade"/>
<rect x="475.17" y="312.05" width="6.83" height="11.95" fill="#a036c7"/>
<rect x="481.30" y="312.05" width="6.83" height="11.95" fill="#a036c7"/>
<rect x="487.43" y="312.05" width="6.83" height="11.95" fill="#d1a0e3"/>
<rect x="493.56" y="312.05" width="6.83" height="11.95" fill="#e5ccef"/>
<rect x="499.69" y="312.05" width="6.83" height="11.95" fill="#ead7f2"/>
<rect x="505.82" y="312.05" width="6.83" height="11.95" fill="#d3a3e4"/>
<rect x="511.95" y="312.05" width="6.83" height="11.95" fill="#e0c1ec"/>
<rect x="518.08" y="312.05" width="6.83" height="11.95" fill="#eedef4"/>
<rect x="524.21" y="312.05" width="6.83" height="11.95" fill="#ddb9ea"/>
<rect x="530.34" y="312.05" width="6.13" height="11.95" fill="#dcb8ea"/>
<rect x="420.00" y="323.30" width="6.83" height="11.95" fill="#9e32c6"/>
<rect x="426.13" y="323.30" width="6.83" height="11.95" fill="#7125ae"/>
<rect x="432.26" y="323.30" width="6.83" height="11.95" fill="#5c1fa3"/>
<rect x="438.39" y="323.30" width="6.83" height="11.95" fill="#6020a5"/>
<rect x="444.52" y="323.30" width="6.83" height="11.95" fill="#832ab8"/>
<rect x="450.65" y="323.30" width="6.83" height="11.95" fill="#9e32c6"/>
<rect x="456.78" y="323.30" width="6.83" height="11.95" fill="#852bb9"/>
<rect x="462.91" y="323.30" width="6.83" height="11.95" fill="#c07bda"/>
<rect x="469.04" y="323.30" width="6.83" height="11.95" fill="#c78ade"/>
<rect x="475.17" y="323.30" width="6.83" height="11.95" fill="#9630c2"/>
<rect x="481.30" y="323.30" width="6.83" height="11.95" fill="#c27fdb"/>
<rect x="487.43" y="323.30" width="6.83" height="11.95" fill="#dbb6e9"/>
<rect x="493.56" y="323.30" width="6.83" height="11.95" fill="#e9d3f1"/>
<rect x="499.69" y="323.30" width="6.83" height="11.95" fill="#ecdaf3"/>
<rect x="505.82" y="323.30" width="6.83" height="11.95" fill="#ce98e1"/>
<rect x="511.95" y="323.30" width="6.83" height="11.95" fill="#d4a7e5"/>
<rect x="518.08" y="323.30" width="6.83" height="11.95" fill="#eedef4"/>
<rect x="524.21" y="323.30" width="6.83" height="11.95" fill="#d4a5e5"/>
<rect x="530.34" y="323.30" width="6.13" height="11.95" fill="#debbeb"/>
<rect x="420.00" y="334.55" width="6.83" height="11.95" fill="#9a31c4"/>
<rect x="426.13" y="334.55" width="6.83" height="11.95" fill="#7d28b4"/>
<rect x="432.26" y="334.55" width="6.83" height="11.95" fill="#7125ae"/>
<rect x="438.39" y="334.55" width="6.83" height="11.95" fill="#7727b1"/>
<rect x="444.52" y="334.55" width="6.83" height="11.95" fill="#6b23aa"/>
<rect x="450.65" y="334.55" width="6.83" height="11.95" fill="#6b23aa"/>
<rect x="456.78" y="334.55" width="6.83" height="11.95" fill="#9c31c5"/>
<rect x="462.91" y="334.55" width="6.83" height="11.95" fill="#dab2e8"/>
<rect x="469.04" y="334.55" width="6.83" height="11.95" fill="#b869d5"/>
<rect x="475.17" y="334.55" width="6.83" height="11.95" fill="#ac4fce"/>
<rect x="481.30" y="334.55" width="6.83" height="11.95" fill="#c383dc"/>
<rect x="487.43" y="334.55" width="6.83" height="11.95" fill="#dbb6e9"/>
<rect x="493.56" y="334.55" width="6.83" height="11.95" fill="#f0e2f5"/>
<rect x="499.69" y="334.55" width="6.83" height="11.95" fill="#ecdaf3"/>
<rect x="505.82" y="334.55" width="6.83" height="11.95" fill="#d6abe6"/>
<rect x="511.95" y="334.55" width="6.83" height="11.95" fill="#e6cef0"/>
<rect x="518.08" y="334.55" width="6.83" height="11.95" fill="#eedef4"/>
<rect x="524.21" y="334.55" width="6.83" height="11.95" fill="#e0c1ec"/>
<rect x="530.34" y="334.55" width="6.13" height="11.95" fill="#e4c8ee"/>
<rect x="420.00" y="345.80" width="6.83" height="11.95" fill="#be78d9"/>
<rect x="426.13" y="345.80" width="6.83" height="11.95" fill="#7d28b4"/>
<rect x="432.26" y="345.80" width="6.83" height="11.95" fill="#9830c3"/>
<rect x="438.39" y="345.80" width="6.83" height="11.95" fill="#7f29b6"/>
<rect x="444.52" y="345.80" width="6.83" height="11.95" fill="#ad53cf"/>
<rect x="450.65" y="345.80" width="6.83" height="11.95" fill="#ad53cf"/>
<rect x="456.78" y="345.80" width="6.83" height="11.95" fill="#b25ed2"/>
<rect x="462.91" y="345.80" width="6.83" height="11.95" fill="#9e32c6"/>
<rect x="469.04" y="345.80" width="6.83" height="11.95" fill="#e0c1ec"/>
<rect x="475.17" y="345.80" width="6.83" height="11.95" fill="#ce98e1"/>
<rect x="481.30" y="345.80" width="6.83" height="11.95" fill="#ca91df"/>
<rect x="487.43" y="345.80" width="6.83" height="11.95" fill="#e4c8ee"/>
<rect x="493.56" y="345.80" width="6.83" height="11.95" fill="#eedef4"/>
<rect x="499.69" y="345.80" width="6.83" height="11.95" fill="#efe0f5"/>
<rect x="505.82" y="345.80" width="6.83" height="11.95" fill="#e9d3f1"/>
<rect x="511.95" y="345.80" width="6.83" height="11.95" fill="#e9d3f1"/>
<rect x="518.08" y="345.80" width="6.83" height="11.95" fill="#efe4f6"/>
<rect x="524.21" y="345.80" width="6.83" height="11.95" fill="#eedef4"/>
<rect x="530.34" y="345.80" width="6.13" height="11.95" fill="#ead7f2"/>
<rect x="420.00" y="357.05" width="6.83" height="11.95" fill="#9630c2"/>
<rect x="426.13" y="357.05" width="6.83" height="11.95" fill="#b869d5"/>
<rect x="432.26" y="357.05" width="6.83" height="11.95" fill="#9a31c4"/>
<rect x="438.39" y="357.05" width="6.83" height="11.95" fill="#e5ccef"/>
<rect x="444.52" y="357.05" width="6.83" height="11.95" fill="#efe4f6"/>
<rect x="450.65" y="357.05" width="6.83" height="11.95" fill="#ce98e1"/>
<rect x="456.78" y="357.05" width="6.83" height="11.95" fill="#efe4f6"/>
<rect x="462.91" y="357.05" width="6.83" height="11.95" fill="#efe4f6"/>
<rect x="469.04" y="357.05" width="6.83" height="11.95" fill="#f0e2f5"/>
<rect x="475.17" y="357.05" width="6.83" height="11.95" fill="#efe4f6"/>
<rect x="481.30" y="357.05" width="6.83" height="11.95" fill="#efe4f6"/>
<rect x="487.43" y="357.05" width="6.83" height="11.95" fill="#e2c4ed"/>
<rect x="493.56" y="357.05" width="6.83" height="11.95" fill="#f0e4f6"/>
<rect x="499.69" y="357.05" width="6.83" height="11.95" fill="#efe4f6"/>
<rect x="505.82" y="357.05" width="6.83" height="11.95" fill="#efe4f6"/>
<rect x="511.95" y="357.05" width="6.83" height="11.95" fill="#efe4f6"/>
<rect x="518.08" y="357.05" width="6.83" height="11.95" fill="#efe4f6"/>
<rect x="524.21" y="357.05" width="6.83" height="11.95" fill="#f0e4f6"/>
<rect x="530.34" y="357.05" width="6.13" height="11.95" fill="#efe4f6"/>
<rect x="420.00" y="368.30" width="6.83" height="11.95" fill="#b869d5"/>
<rect x="426.13" y="368.30" width="6.83" height="11.95" fill="#a036c7"/>
<rect x="432.26" y="368.30" width="6.83" height="11.95" fill="#9c31c5"/>
<rect x="438.39" y="368.30" width="6.83" height="11.95" fill="#ca91df"/>
<rect x="444.52" y="368.30" width="6.83" height="11.95" fill="#efe4f6"/>
<rect x="450.65" y="368.30" width="6.83" height="11.95" fill="#efe4f6"/>
<rect x="456.78" y="368.30" width="6.83" height="11.95" fill="#efe4f6"/>
<rect x="462.91" y="368.30" width="6.83" height="11.95" fill="#efe4f6"/>
<rect x="469.04" y="368.30" width="6.83" height="11.95" fill="#efe4f6"/>
<rect x="475.17" y="368.30" width="6.83" height="11.95" fill="#efe4f6"/>
<rect x="481.30" y="368.30" width="6.83" height="11.95" fill="#efe4f6"/>
<rect x="487.43" y="368.30" width="6.83" height="11.95" fill="#ead7f2"/>
<rect x="493.56" y="368.30" width="6.83" height="11.95" fill="#efe4f6"/>
<rect x="499.69" y="368.30" width="6.83" height="11.95" fill="#efe4f6"/>
<rect x="505.82" y="368.30" width="6.83" height="11.95" fill="#efe4f6"/>
<rect x="511.95" y="368.30" width="6.83" height="11.95" fill="#efe4f6"/>
<rect x="518.08" y="368.30" width="6.83" height="11.95" fill="#efe4f6"/>
<rect x="524.21" y="368.30" width="6.83" height="11.95" fill="#efe4f6"/>
<rect x="530.34" y="368.30" width="6.13" height="11.95" fill="#efe4f6"/>
<rect x="420.00" y="379.55" width="6.83" height="11.95" fill="#efe4f6"/>
<rect x="426.13" y="379.55" width="6.83" height="11.95" fill="#832ab8"/>
<rect x="432.26" y="379.55" width="6.83" height="11.95" fill="#9e32c6"/>
<rect x="438.39" y="379.55" width="6.83" height="11.95" fill="#c383dc"/>
<rect x="444.52" y="379.55" width="6.83" height="11.95" fill="#efe4f6"/>
<rect x="450.65" y="379.55" width="6.83" height="11.95" fill="#efe4f6"/>
<rect x="456.78" y="379.55" width="6.83" height="11.95" fill="#efe4f6"/>
<rect x="462.91" y="379.55" width="6.83" height="11.95" fill="#efe4f6"/>
<rect x="469.04" y="379.55" width="6.83" height="11.95" fill="#efe4f6"/>
<rect x="475.17" y="379.55" width="6.83" height="11.95" fill="#efe4f6"/>
<rect x="481.30" y="379.55" width="6.83" height="11.95" fill="#efe4f6"/>
<rect x="487.43" y="379.55" width="6.83" height="11.95" fill="#ead7f2"/>
<rect x="493.56" y="379.55" width="6.83" height="11.95" fill="#efe4f6"/>
<rect x="499.69" y="379.55" width="6.83" height="11.95" fill="#efe4f6"/>
<rect x="505.82" y="379.55" width="6.83" height="11.95" fill="#efe4f6"/>
<rect x="511.95" y="379.55" width="6.83" height="11.95" fill="#efe4f6"/>
<rect x="518.08" y="379.55" width="6.83" height="11.95" fill="#efe4f6"/>
<rect x="524.21" y="379.55" width="6.83" height="11.95" fill="#efe4f6"/>
<rect x="530.34" y="379.55" width="6.13" height="11.95" fill="#efe4f6"/>
<rect x="420.00" y="390.80" width="6.83" height="11.95" fill="#efe4f6"/>
<rect x="426.13" y="390.80" width="6.83" height="11.95" fill="#c383dc"/>
<rect x="432.26" y="390.80" width="6.83" height="11.95" fill="#d4a7e5"/>
<rect x="438.39" y="390.80" width="6.83" height="11.95" fill="#ddb9ea"/>
<rect x="444.52" y="390.80" width="6.83" height="11.95" fill="#efe4f6"/>
<rect x="450.65" y="390.80" width="6.83" height="11.95" fill="#efe4f6"/>
<rect x="456.78" y="390.80" width="6.83" height="11.95" fill="#efe4f6"/>
<rect x="462.91" y="390.80" width="6.83" height="11.95" fill="#efe4f6"/>
<rect x="469.04" y="390.80" width="6.83" height="11.95" fill="#efe4f6"/>
<rect x="475.17" y="390.80" width="6.83" height="11.95" fill="#efe4f6"/>
<rect x="481.30" y="390.80" width="6.83" height="11.95" fill="#efe4f6"/>
<rect x="487.43" y="390.80" width="6.83" height="11.95" fill="#ead7f2"/>
<rect x="493.56" y="390.80" width="6.83" height="11.95" fill="#efe4f6"/>
<rect x="499.69" y="390.80" width="6.83" height="11.95" fill="#efe4f6"/>
<rect x="505.82" y="390.80" width="6.83" height="11.95" fill="#efe4f6"/>
<rect x="511.95" y="390.80" width="6.83" height="11.95" fill="#efe4f6"/>
<rect x="518.08" y="390.80" width="6.83" height="11.95" fill="#efe4f6"/>
<rect x="524.21" y="390.80" width="6.83" height="11.95" fill="#efe4f6"/>
<rect x="530.34" y="390.80" width="6.13" height="11.95" fill="#efe4f6"/>
<rect x="420.00" y="402.05" width="6.83" height="11.95" fill="#efe4f6"/>
<rect x="426.13" y="402.05" width="6.83" height="11.95" fill="#a036c7"/>
<rect x="432.26" y="402.05" width="6.83" height="11.95" fill="#efe4f6"/>
<rect x="438.39" y="402.05" width="6.83" height="11.95" fill="#efe4f6"/>
<rect x="444.52" y="402.05" width="6.83" height="11.95" fill="#efe4f6"/>
<rect x="450.65" y="402.05" width="6.83" height="11.95" fill="#efe4f6"/>
<rect x="456.78" y="402.05" width="6.83" height="11.95" fill="#efe4f6"/>
<rect x="462.91" y="402.05" width="6.83" height="11.95" fill="#efe4f6"/>
<rect x="469.04" y="402.05" width="6.83" height="11.95" fill="#efe4f6"/>
<rect x="475.17" y="402.05" width="6.83" height="11.95" fill="#efe4f6"/>
<rect x="481.30" y="402.05" width="6.83" height="11.95" fill="#efe4f6"/>
<rect x="487.43" y="402.05" width="6.83" height="11.95" fill="#efe4f6"/>
<rect x="493.56" y="402.05" width="6.83" height="11.95" fill="#efe4f6"/>
<rect x="499.69" y="402.05" width="6.83" height="11.95" fill="#efe4f6"/>
<rect x="505.82" y="402.05" width="6.83" height="11.95" fill="#efe4f6"/>
<rect x="511.95" y="402.05" width="6.83" height="11.95" fill="#efe4f6"/>
<rect x="518.08" y="402.05" width="6.83" height="11.95" fill="#efe4f6"/>
<rect x="524.21" y="402.05" width="6.83" height="11.95" fill="#efe4f6"/>
<rect x="530.34" y="402.05" width="6.13" height="11.95" fill="#efe4f6"/>
<rect x="420.00" y="413.30" width="6.83" height="11.95" fill="#6922a9"/>
<rect x="426.13" y="413.30" width="6.83" height="11.95" fill="#efe4f6"/>
<rect x="432.26" y="413.30" width="6.83" height="11.95" fill="#efe4f6"/>
<rect x="438.39" y="413.30" width="6.83" height="11.95" fill="#efe4f6"/>
<rect x="444.52" y="413.30" width="6.83" height="11.95" fill="#efe4f6"/>
<rect x="450.65" y="413.30" width="6.83" height="11.95" fill="#b665d4"/>
<rect x="456.78" y="413.30" width="6.83" height="11.95" fill="#efe4f6"/>
<rect x="462.91" y="413.30" width="6.83" height="11.95" fill="#efe4f6"/>
<rect x="469.04" y="413.30" width="6.83" height="11.95" fill="#e9d3f1"/>
<rect x="475.17" y="413.30" width="6.83" height="11.95" fill="#efe4f6"/>
<rect x="481.30" y="413.30" width="6.83" height="11.95" fill="#efe4f6"/>
<rect x="487.43" y="413.30" width="6.83" height="11.95" fill="#ce98e1"/>
<rect x="493.56" y="413.30" width="6.83" height="11.95" fill="#efe4f6"/>
<rect x="499.69" y="413.30" width="6.83" height="11.95" fill="#efe4f6"/>
<rect x="505.82" y="413.30" width="6.83" height="11.95" fill="#efe4f6"/>
<rect x="511.95" y="413.30" width="6.83" height="11.95" fill="#efe4f6"/>
<rect x="518.08" y="413.30" width="6.83" height="11.95" fill="#e5ccef"/>
<rect x="524.21" y="413.30" width="6.83" height="11.95" fill="#f0e2f5"/>
<rect x="530.34" y="413.30" width="6.13" height="11.95" fill="#efe4f6"/>
<rect x="420.00" y="424.55" width="6.83" height="11.95" fill="#7927b2"/>
<rect x="426.13" y="424.55" width="6.83" height="11.95" fill="#efe4f6"/>
<rect x="432.26" y="424.55" width="6.83" height="11.95" fill="#efe4f6"/>
<rect x="438.39" y="424.55" width="6.83" height="11.95" fill="#efe4f6"/>
<rect x="444.52" y="424.55" width="6.83" height="11.95" fill="#efe4f6"/>
<rect x="450.65" y="424.55" width="6.83" height="11.95" fill="#efe4f6"/>
<rect x="456.78" y="424.55" width="6.83" height="11.95" fill="#efe4f6"/>
<rect x="462.91" y="424.55" width="6.83" height="11.95" fill="#efe4f6"/>
<rect x="469.04" y="424.55" width="6.83" height="11.95" fill="#efe4f6"/>
<rect x="475.17" y="424.55" width="6.83" height="11.95" fill="#efe4f6"/>
<rect x="481.30" y="424.55" width="6.83" height="11.95" fill="#efe4f6"/>
<rect x="487.43" y="424.55" width="6.83" height="11.95" fill="#eedef4"/>
<rect x="493.56" y="424.55" width="6.83" height="11.95" fill="#efe4f6"/>
<rect x="499.69" y="424.55" width="6.83" height="11.95" fill="#efe4f6"/>
<rect x="505.82" y="424.55" width="6.83" height="11.95" fill="#efe4f6"/>
<rect x="511.95" y="424.55" width="6.83" height="11.95" fill="#efe4f6"/>
<rect x="518.08" y="424.55" width="6.83" height="11.95" fill="#efe4f6"/>
<rect x="524.21" y="424.55" width="6.83" height="11.95" fill="#efe4f6"/>
<rect x="530.34" y="424.55" width="6.13" height="11.95" fill="#efe4f6"/>
<rect x="420.00" y="435.80" width="6.83" height="11.95" fill="#7f29b6"/>
<rect x="426.13" y="435.80" width="6.83" height="11.95" fill="#efe4f6"/>
<rect x="432.26" y="435.80" width="6.83" height="11.95" fill="#efe4f6"/>
<rect x="438.39" y="435.80" width="6.83" height="11.95" fill="#efe4f6"/>
<rect x="444.52" y="435.80" width="6.83" height="11.95" fill="#efe4f6"/>
<rect x="450.65" y="435.80" width="6.83" height="11.95" fill="#efe4f6"/>
<rect x="456.78" y="435.80" width="6.83" height="11.95" fill="#efe4f6"/>
<rect x="462.91" y="435.80" width="6.83" height="11.95" fill="#efe4f6"/>
<rect x="469.04" y="435.80" width="6.83" height="11.95" fill="#efe4f6"/>
<rect x="475.17" y="435.80" width="6.83" height="11.95" fill="#efe4f6"/>
<rect x="481.30" y="435.80" width="6.83" height="11.95" fill="#efe4f6"/>
<rect x="487.43" y="435.80" width="6.83" height="11.95" fill="#efe4f6"/>
<rect x="493.56" y="435.80" width="6.83" height="11.95" fill="#efe4f6"/>
<rect x="499.69" y="435.80" width="6.83" height="11.95" fill="#efe4f6"/>
<rect x="505.82" y="435.80" width="6.83" height="11.95" fill="#efe4f6"/>
<rect x="511.95" y="435.80" width="6.83" height="11.95" fill="#efe4f6"/>
<rect x="518.08" y="435.80" width="6.83" height="11.95" fill="#eedef4"/>
<rect x="524.21" y="435.80" width="6.83" height="11.95" fill="#efe4f6"/>
<rect x="530.34" y="435.80" width="6.13" height="11.95" fill="#efe4f6"/>
<rect x="420.00" y="447.05" width="6.83" height="11.95" fill="#852bb9"/>
<rect x="426.13" y="447.05" width="6.83" height="11.95" fill="#efe4f6"/>
<rect x="432.26" y="447.05" width="6.83" height="11.95" fill="#efe4f6"/>
<rect x="438.39" y="447.05" width="6.83" height="11.95" fill="#efe4f6"/>
<rect x="444.52" y="447.05" width="6.83" height="11.95" fill="#efe4f6"/>
<rect x="450.65" y="447.05" width="6.83" height="11.95" fill="#efe4f6"/>
<rect x="456.78" y="447.05" width="6.83" height="11.95" fill="#efe4f6"/>
<rect x="462.91" y="447.05" width="6.83" height="11.95" fill="#efe4f6"/>
<rect x="469.04" y="447.05" width="6.83" height="11.95" fill="#ecdaf3"/>
<rect x="475.17" y="447.05" width="6.83" height="11.95" fill="#efe4f6"/>
<rect x="481.30" y="447.05" width="6.83" height="11.95" fill="#efe4f6"/>
<rect x="487.43" y="447.05" width="6.83" height="11.95" fill="#eedef4"/>
<rect x="493.56" y="447.05" width="6.83" height="11.95" fill="#efe4f6"/>
<rect x="499.69" y="447.05" width="6.83" height="11.95" fill="#efe4f6"/>
<rect x="505.82" y="447.05" width="6.83" height="11.95" fill="#efe4f6"/>
<rect x="511.95" y="447.05" width="6.83" height="11.95" fill="#efe4f6"/>
<rect x="518.08" y="447.05" width="6.83" height="11.95" fill="#eedef4"/>
<rect x="524.21" y="447.05" width="6.83" height="11.95" fill="#eedef4"/>
<rect x="530.34" y="447.05" width="6.13" height="11.95" fill="#efe4f6"/>
<rect x="420.00" y="458.30" width="6.83" height="11.25" fill="#8c2dbc"/>
<rect x="426.13" y="458.30" width="6.83" height="11.25" fill="#efe4f6"/>
<rect x="432.26" y="458.30" width="6.83" height="11.25" fill="#efe4f6"/>
<rect x="438.39" y="458.30" width="6.83" height="11.25" fill="#efe4f6"/>
<rect x="444.52" y="458.30" width="6.83" height="11.25" fill="#efe4f6"/>
<rect x="450.65" y="458.30" width="6.83" height="11.25" fill="#efe4f6"/>
<rect x="456.78" y="458.30" width="6.83" height="11.25" fill="#efe4f6"/>
<rect x="462.91" y="458.30" width="6.83" height="11.25" fill="#efe4f6"/>
<rect x="469.04" y="458.30" width="6.83" height="11.25" fill="#ecdaf3"/>
<rect x="475.17" y="458.30" width="6.83" height="11.25" fill="#efe4f6"/>
<rect x="481.30" y="458.30" width="6.83" height="11.25" fill="#efe4f6"/>
<rect x="487.43" y="458.30" width="6.83" height="11.25" fill="#eedef4"/>
<rect x="493.56" y="458.30" width="6.83" height="11.25" fill="#efe4f6"/>
<rect x="499.69" y="458.30" width="6.83" height="11.25" fill="#efe4f6"/>
<rect x="505.82" y="458.30" width="6.83" height="11.25" fill="#efe4f6"/>
<rect x="511.95" y="458.30" width="6.83" height="11.25" fill="#efe4f6"/>
<rect x="518.08" y="458.30" width="6.83" height="11.25" fill="#eedef4"/>
<rect x="524.21" y="458.30" width="6.83" height="11.25" fill="#efe4f6"/>
<rect x="530.34" y="458.30" width="6.13" height="11.25" fill="#efe4f6"/>
<path d="M518.85 347.48L523.45 355.38M523.45 347.48L518.85 355.38M445.28 358.73L449.88 366.62M449.88 358.73L445.28 366.62M457.54 358.73L462.14 366.62M462.14 358.73L457.54 366.62M463.67 358.73L468.27 366.62M468.27 358.73L463.67 366.62M475.94 358.73L480.54 366.62M480.54 358.73L475.94 366.62M482.06 358.73L486.67 366.62M486.67 358.73L482.06 366.62M500.45 358.73L505.06 366.62M505.06 358.73L500.45 366.62M506.58 358.73L511.19 366.62M511.19 358.73L506.58 366.62M512.72 358.73L517.31 366.62M517.31 358.73L512.72 366.62M518.85 358.73L523.45 366.62M523.45 358.73L518.85 366.62M531.11 358.73L535.71 366.62M535.71 358.73L531.11 366.62M445.28 369.98L449.88 377.88M449.88 369.98L445.28 377.88M451.41 369.98L456.01 377.88M456.01 369.98L451.41 377.88M457.54 369.98L462.14 377.88M462.14 369.98L457.54 377.88M463.67 369.98L468.27 377.88M468.27 369.98L463.67 377.88M469.81 369.98L474.41 377.88M474.41 369.98L469.81 377.88M475.94 369.98L480.54 377.88M480.54 369.98L475.94 377.88M482.06 369.98L486.67 377.88M486.67 369.98L482.06 377.88M494.32 369.98L498.93 377.88M498.93 369.98L494.32 377.88M500.45 369.98L505.06 377.88M505.06 369.98L500.45 377.88M506.58 369.98L511.19 377.88M511.19 369.98L506.58 377.88M512.72 369.98L517.31 377.88M517.31 369.98L512.72 377.88M518.85 369.98L523.45 377.88M523.45 369.98L518.85 377.88M524.98 369.98L529.58 377.88M529.58 369.98L524.98 377.88M531.11 369.98L535.71 377.88M535.71 369.98L531.11 377.88M420.76 381.23L425.37 389.12M425.37 381.23L420.76 389.12M445.28 381.23L449.88 389.12M449.88 381.23L445.28 389.12M451.41 381.23L456.01 389.12M456.01 381.23L451.41 389.12M457.54 381.23L462.14 389.12M462.14 381.23L457.54 389.12M463.67 381.23L468.27 389.12M468.27 381.23L463.67 389.12M469.81 381.23L474.41 389.12M474.41 381.23L469.81 389.12M475.94 381.23L480.54 389.12M480.54 381.23L475.94 389.12M482.06 381.23L486.67 389.12M486.67 381.23L482.06 389.12M494.32 381.23L498.93 389.12M498.93 381.23L494.32 389.12M500.45 381.23L505.06 389.12M505.06 381.23L500.45 389.12M506.58 381.23L511.19 389.12M511.19 381.23L506.58 389.12M512.72 381.23L517.31 389.12M517.31 381.23L512.72 389.12M518.85 381.23L523.45 389.12M523.45 381.23L518.85 389.12M524.98 381.23L529.58 389.12M529.58 381.23L524.98 389.12M531.11 381.23L535.71 389.12M535.71 381.23L531.11 389.12M420.76 392.48L425.37 400.38M425.37 392.48L420.76 400.38M445.28 392.48L449.88 400.38M449.88 392.48L445.28 400.38M451.41 392.48L456.01 400.38M456.01 392.48L451.41 400.38M457.54 392.48L462.14 400.38M462.14 392.48L457.54 400.38M463.67 392.48L468.27 400.38M468.27 392.48L463.67 400.38M469.81 392.48L474.41 400.38M474.41 392.48L469.81 400.38M475.94 392.48L480.54 400.38M480.54 392.48L475.94 400.38M482.06 392.48L486.67 400.38M486.67 392.48L482.06 400.38M494.32 392.48L498.93 400.38M498.93 392.48L494.32 400.38M500.45 392.48L505.06 400.38M505.06 392.48L500.45 400.38M506.58 392.48L511.19 400.38M511.19 392.48L506.58 400.38M512.72 392.48L517.31 400.38M517.31 392.48L512.72 400.38M518.85 392.48L523.45 400.38M523.45 392.48L518.85 400.38M524.98 392.48L529.58 400.38M529.58 392.48L524.98 400.38M531.11 392.48L535.71 400.38M535.71 392.48L531.11 400.38M420.76 403.73L425.37 411.62M425.37 403.73L420.76 411.62M433.02 403.73L437.62 411.62M437.62 403.73L433.02 411.62M439.15 403.73L443.75 411.62M443.75 403.73L439.15 411.62M445.28 403.73L449.88 411.62M449.88 403.73L445.28 411.62M451.41 403.73L456.01 411.62M456.01 403.73L451.41 411.62M457.54 403.73L462.14 411.62M462.14 403.73L457.54 411.62M463.67 403.73L468.27 411.62M468.27 403.73L463.67 411.62M469.81 403.73L474.41 411.62M474.41 403.73L469.81 411.62M475.94 403.73L480.54 411.62M480.54 403.73L475.94 411.62M482.06 403.73L486.67 411.62M486.67 403.73L482.06 411.62M488.19 403.73L492.80 411.62M492.80 403.73L488.19 411.62M494.32 403.73L498.93 411.62M498.93 403.73L494.32 411.62M500.45 403.73L505.06 411.62M505.06 403.73L500.45 411.62M506.58 403.73L511.19 411.62M511.19 403.73L506.58 411.62M512.72 403.73L517.31 411.62M517.31 403.73L512.72 411.62M518.85 403.73L523.45 411.62M523.45 403.73L518.85 411.62M524.98 403.73L529.58 411.62M529.58 403.73L524.98 411.62M531.11 403.73L535.71 411.62M535.71 403.73L531.11 411.62M426.89 414.98L431.50 422.88M431.50 414.98L426.89 422.88M433.02 414.98L437.62 422.88M437.62 414.98L433.02 422.88M439.15 414.98L443.75 422.88M443.75 414.98L439.15 422.88M445.28 414.98L449.88 422.88M449.88 414.98L445.28 422.88M457.54 414.98L462.14 422.88M462.14 414.98L457.54 422.88M463.67 414.98L468.27 422.88M468.27 414.98L463.67 422.88M475.94 414.98L480.54 422.88M480.54 414.98L475.94 422.88M482.06 414.98L486.67 422.88M486.67 414.98L482.06 422.88M494.32 414.98L498.93 422.88M498.93 414.98L494.32 422.88M500.45 414.98L505.06 422.88M505.06 414.98L500.45 422.88M506.58 414.98L511.19 422.88M511.19 414.98L506.58 422.88M512.72 414.98L517.31 422.88M517.31 414.98L512.72 422.88M531.11 414.98L535.71 422.88M535.71 414.98L531.11 422.88M426.89 426.23L431.50 434.12M431.50 426.23L426.89 434.12M433.02 426.23L437.62 434.12M437.62 426.23L433.02 434.12M439.15 426.23L443.75 434.12M443.75 426.23L439.15 434.12M445.28 426.23L449.88 434.12M449.88 426.23L445.28 434.12M451.41 426.23L456.01 434.12M456.01 426.23L451.41 434.12M457.54 426.23L462.14 434.12M462.14 426.23L457.54 434.12M463.67 426.23L468.27 434.12M468.27 426.23L463.67 434.12M469.81 426.23L474.41 434.12M474.41 426.23L469.81 434.12M475.94 426.23L480.54 434.12M480.54 426.23L475.94 434.12M482.06 426.23L486.67 434.12M486.67 426.23L482.06 434.12M494.32 426.23L498.93 434.12M498.93 426.23L494.32 434.12M500.45 426.23L505.06 434.12M505.06 426.23L500.45 434.12M506.58 426.23L511.19 434.12M511.19 426.23L506.58 434.12M512.72 426.23L517.31 434.12M517.31 426.23L512.72 434.12M518.85 426.23L523.45 434.12M523.45 426.23L518.85 434.12M524.98 426.23L529.58 434.12M529.58 426.23L524.98 434.12M531.11 426.23L535.71 434.12M535.71 426.23L531.11 434.12M426.89 437.48L431.50 445.38M431.50 437.48L426.89 445.38M433.02 437.48L437.62 445.38M437.62 437.48L433.02 445.38M439.15 437.48L443.75 445.38M443.75 437.48L439.15 445.38M445.28 437.48L449.88 445.38M449.88 437.48L445.28 445.38M451.41 437.48L456.01 445.38M456.01 437.48L451.41 445.38M457.54 437.48L462.14 445.38M462.14 437.48L457.54 445.38M463.67 437.48L468.27 445.38M468.27 437.48L463.67 445.38M469.81 437.48L474.41 445.38M474.41 437.48L469.81 445.38M475.94 437.48L480.54 445.38M480.54 437.48L475.94 445.38M482.06 437.48L486.67 445.38M486.67 437.48L482.06 445.38M488.19 437.48L492.80 445.38M492.80 437.48L488.19 445.38M494.32 437.48L498.93 445.38M498.93 437.48L494.32 445.38M500.45 437.48L505.06 445.38M505.06 437.48L500.45 445.38M506.58 437.48L511.19 445.38M511.19 437.48L506.58 445.38M512.72 437.48L517.31 445.38M517.31 437.48L512.72 445.38M524.98 437.48L529.58 445.38M529.58 437.48L524.98 445.38M531.11 437.48L535.71 445.38M535.71 437.48L531.11 445.38M426.89 448.73L431.50 456.62M431.50 448.73L426.89 456.62M433.02 448.73L437.62 456.62M437.62 448.73L433.02 456.62M439.15 448.73L443.75 456.62M443.75 448.73L439.15 456.62M445.28 448.73L449.88 456.62M449.88 448.73L445.28 456.62M451.41 448.73L456.01 456.62M456.01 448.73L451.41 456.62M457.54 448.73L462.14 456.62M462.14 448.73L457.54 456.62M463.67 448.73L468.27 456.62M468.27 448.73L463.67 456.62M475.94 448.73L480.54 456.62M480.54 448.73L475.94 456.62M482.06 448.73L486.67 456.62M486.67 448.73L482.06 456.62M494.32 448.73L498.93 456.62M498.93 448.73L494.32 456.62M500.45 448.73L505.06 456.62M505.06 448.73L500.45 456.62M506.58 448.73L511.19 456.62M511.19 448.73L506.58 456.62M512.72 448.73L517.31 456.62M517.31 448.73L512.72 456.62M531.11 448.73L535.71 456.62M535.71 448.73L531.11 456.62M426.89 459.98L431.50 467.88M431.50 459.98L426.89 467.88M433.02 459.98L437.62 467.88M437.62 459.98L433.02 467.88M439.15 459.98L443.75 467.88M443.75 459.98L439.15 467.88M445.28 459.98L449.88 467.88M449.88 459.98L445.28 467.88M451.41 459.98L456.01 467.88M456.01 459.98L451.41 467.88M457.54 459.98L462.14 467.88M462.14 459.98L457.54 467.88M463.67 459.98L468.27 467.88M468.27 459.98L463.67 467.88M475.94 459.98L480.54 467.88M480.54 459.98L475.94 467.88M482.06 459.98L486.67 467.88M486.67 459.98L482.06 467.88M494.32 459.98L498.93 467.88M498.93 459.98L494.32 467.88M500.45 459.98L505.06 467.88M505.06 459.98L500.45 467.88M506.58 459.98L511.19 467.88M511.19 459.98L506.58 467.88M512.72 459.98L517.31 467.88M517.31 459.98L512.72 467.88M524.98 459.98L529.58 467.88M529.58 459.98L524.98 467.88M531.11 459.98L535.71 467.88M535.71 459.98L531.11 467.88" stroke="#0c0c0c" stroke-width="0.95" fill="none"/>
<text transform="translate(538.0,286.07) scale(0.9,1)" font-size="6.2" font-weight="bold" fill="#111">Escherichia_coli</text>
<text transform="translate(538.0,297.32) scale(0.9,1)" font-size="6.2" font-weight="bold" fill="#111">Shigella_sonnei</text>
<text transform="translate(538.0,308.57) scale(0.9,1)" font-size="6.2" font-weight="bold" fill="#111">Prevotella_oris</text>
<text transform="translate(538.0,319.82) scale(0.9,1)" font-size="6.2" font-weight="bold" fill="#111">Prevotella_timonensis</text>
<text transform="translate(538.0,331.07) scale(0.9,1)" font-size="6.2" font-weight="bold" fill="#111">Prevotella_dentalis</text>
<text transform="translate(538.0,342.32) scale(0.9,1)" font-size="6.2" font-weight="bold" fill="#111">Porphyromonas_uenonis</text>
<text transform="translate(538.0,353.57) scale(0.9,1)" font-size="6.2" font-weight="bold" fill="#111">Blautia_wexlerae</text>
<text transform="translate(538.0,364.82) scale(0.9,1)" font-size="6.2" font-weight="bold" fill="#111">Lactobacillus_johnsonii</text>
<text transform="translate(538.0,376.07) scale(0.9,1)" font-size="6.2" font-weight="bold" fill="#111">Lactobacillus_acidophilus</text>
<text transform="translate(538.0,387.32) scale(0.9,1)" font-size="6.2" font-weight="bold" fill="#111">Lactobacillus_crispatus</text>
<text transform="translate(538.0,398.57) scale(0.9,1)" font-size="6.2" font-weight="bold" fill="#111">Lactobacillus_amylolyticus</text>
<text transform="translate(538.0,409.82) scale(0.9,1)" font-size="6.2" font-weight="bold" fill="#111">Porphyromonas_somerae</text>
<text transform="translate(538.0,421.07) scale(0.9,1)" font-size="6.2" font-weight="bold" fill="#111">Dialister_invisus</text>
<text transform="translate(538.0,432.32) scale(0.9,1)" font-size="6.2" font-weight="bold" fill="#111">Lactobacillus_iners</text>
<text transform="translate(538.0,443.57) scale(0.9,1)" font-size="6.2" font-weight="bold" fill="#111">Barnesiella_intestinihominis</text>
<text transform="translate(538.0,454.82) scale(0.9,1)" font-size="6.2" font-weight="bold" fill="#111">Anaeroglobus_geminatus</text>
<text transform="translate(538.0,466.07) scale(0.9,1)" font-size="6.2" font-weight="bold" fill="#111">Peptoniphilus_lacrimalis</text>
<text transform="translate(425.37,471.6) rotate(-90) scale(0.9,1)" text-anchor="end" font-size="6.5" font-weight="bold" fill="#151515">G01</text>
<text transform="translate(431.50,471.6) rotate(-90) scale(0.9,1)" text-anchor="end" font-size="6.5" font-weight="bold" fill="#151515">A01</text>
<text transform="translate(437.62,471.6) rotate(-90) scale(0.9,1)" text-anchor="end" font-size="6.5" font-weight="bold" fill="#151515">B02</text>
<text transform="translate(443.75,471.6) rotate(-90) scale(0.9,1)" text-anchor="end" font-size="6.5" font-weight="bold" fill="#151515">D01</text>
<text transform="translate(449.88,471.6) rotate(-90) scale(0.9,1)" text-anchor="end" font-size="6.5" font-weight="bold" fill="#151515">H25363</text>
<text transform="translate(456.01,471.6) rotate(-90) scale(0.9,1)" text-anchor="end" font-size="6.5" font-weight="bold" fill="#151515">C01</text>
<text transform="translate(462.15,471.6) rotate(-90) scale(0.9,1)" text-anchor="end" font-size="6.5" font-weight="bold" fill="#151515">H01</text>
<text transform="translate(468.28,471.6) rotate(-90) scale(0.9,1)" text-anchor="end" font-size="6.5" font-weight="bold" fill="#151515">H25364</text>
<text transform="translate(474.41,471.6) rotate(-90) scale(0.9,1)" text-anchor="end" font-size="6.5" font-weight="bold" fill="#151515">B01</text>
<text transform="translate(480.54,471.6) rotate(-90) scale(0.9,1)" text-anchor="end" font-size="6.5" font-weight="bold" fill="#151515">H25365</text>
<text transform="translate(486.67,471.6) rotate(-90) scale(0.9,1)" text-anchor="end" font-size="6.5" font-weight="bold" fill="#151515">H25362</text>
<text transform="translate(492.80,471.6) rotate(-90) scale(0.9,1)" text-anchor="end" font-size="6.5" font-weight="bold" fill="#151515">D02</text>
<text transform="translate(498.93,471.6) rotate(-90) scale(0.9,1)" text-anchor="end" font-size="6.5" font-weight="bold" fill="#151515">H25361</text>
<text transform="translate(505.06,471.6) rotate(-90) scale(0.9,1)" text-anchor="end" font-size="6.5" font-weight="bold" fill="#151515">F01</text>
<text transform="translate(511.19,471.6) rotate(-90) scale(0.9,1)" text-anchor="end" font-size="6.5" font-weight="bold" fill="#151515">E01</text>
<text transform="translate(517.31,471.6) rotate(-90) scale(0.9,1)" text-anchor="end" font-size="6.5" font-weight="bold" fill="#151515">C02</text>
<text transform="translate(523.44,471.6) rotate(-90) scale(0.9,1)" text-anchor="end" font-size="6.5" font-weight="bold" fill="#151515">E02</text>
<text transform="translate(529.57,471.6) rotate(-90) scale(0.9,1)" text-anchor="end" font-size="6.5" font-weight="bold" fill="#151515">A02</text>
<text transform="translate(535.70,471.6) rotate(-90) scale(0.9,1)" text-anchor="end" font-size="6.5" font-weight="bold" fill="#151515">F02</text>
<path d="M429.19 278.10V264.80H435.32V278.10M441.45 278.10V269.80H447.58V278.10M432.26 264.80V259.30H444.52V269.80M423.06 278.10V247.40H438.39V259.30M453.71 278.10V269.80H459.85V278.10M465.98 278.10V270.50H472.11V278.10M478.24 278.10V272.50H484.37V278.10M469.04 270.50V267.30H481.30V272.50M456.78 269.80V263.10H475.17V267.30M496.62 278.10V276.40H502.75V278.10M490.50 278.10V272.20H499.69V276.40M508.88 278.10V274.50H515.01V278.10M511.95 274.50V270.20H521.14V278.10M495.09 272.20V269.40H516.55V270.20M527.27 278.10V276.40H533.40V278.10M505.82 269.40V263.40H530.34V276.40M465.98 263.10V256.50H518.08V263.40M430.73 247.40V243.20H492.03V256.50M419.80 295.18H408.30V306.43H419.80M419.80 283.93H401.30V300.80H408.30M419.80 317.68H415.80V328.93H419.80M415.80 323.30H414.60V340.18H419.80M414.60 331.74H411.80V351.43H419.80M419.80 362.68H416.70V373.93H419.80M419.80 396.43H417.60V407.68H419.80M419.80 385.18H414.50V402.05H417.60M416.70 368.30H412.30V393.61H414.50M419.80 430.18H418.90V441.43H419.80M419.80 452.68H418.90V463.93H419.80M418.90 435.80H418.20V458.30H418.90M419.80 418.93H415.40V447.05H418.20M412.30 380.96H408.30V432.99H415.40M411.80 341.58H400.50V406.97H408.30M401.30 292.36H387.30V374.28H400.50" stroke="#585858" stroke-width="0.46" fill="none"/>
<path d="M616.2 336.2L625.8 345.2M625.8 336.2L616.2 345.2" stroke="#0a0a0a" stroke-width="1.2" fill="none"/>
<text x="627.9" y="344.3" font-size="8.6" fill="#111" stroke="#111" stroke-width="0.15">Absence (X)</text>
<clipPath id="clipLg"><rect x="600" y="345" width="71.4" height="20"/></clipPath>
 <text x="618.3" y="357.4" font-size="6.95" font-weight="bold" fill="#111" clip-path="url(#clipLg)">log10(Abundance)</text>
<defs><linearGradient id="lg" x1="0" y1="0" x2="0" y2="1"><stop offset="0" stop-color="#4c1a9a"/><stop offset="0.5" stop-color="#9e32c6"/><stop offset="1" stop-color="#f3e9f7"/></linearGradient></defs>
<rect x="618.3" y="360.4" width="6.8" height="36" fill="url(#lg)"/>
<text x="626.4" y="364.10" font-size="5.8" fill="#333">3</text>
<text x="626.4" y="375.30" font-size="5.8" fill="#333">2</text>
<text x="626.4" y="386.30" font-size="5.8" fill="#333">1</text>
<text x="626.4" y="397.30" font-size="5.8" fill="#333">0</text>
</g>
</svg>
</body></html>
